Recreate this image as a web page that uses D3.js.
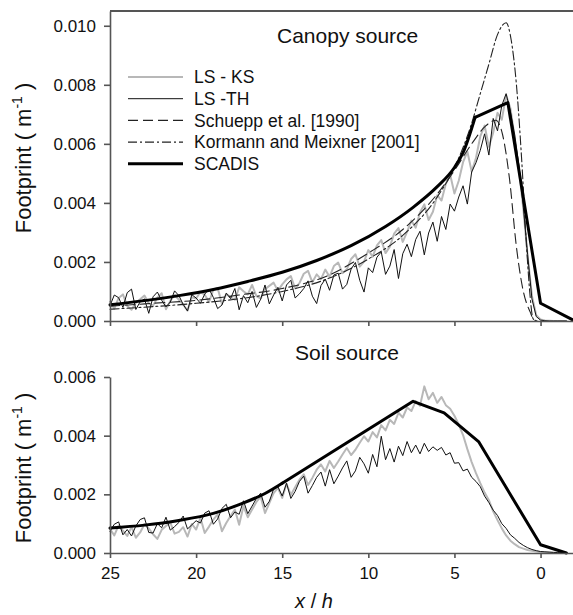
<!DOCTYPE html>
<html>
<head>
<meta charset="utf-8">
<script src="https://cdn.jsdelivr.net/npm/d3@7"></script>
<style>
  body { margin: 0; background: #fff; }
  text { font-family: "Liberation Sans", Arial, sans-serif; fill: #111; }
</style>
</head>
<body>
<svg id="chart" width="573" height="615"></svg>
<script>
// LS runs are sampled every 0.25 x/h from 25 down to -1.5; all footprints in 1e-4 m^-1
const lsStart = 25;
const lsStep = 0.25;

const canopyKS = [
  6.5, 4.2, 7.8, 9.0, 5.1, 3.8, 6.2, 7.4, 8.6, 6.0, 5.2, 7.9, 9.4, 4.0, 6.8, 8.8, 7.2, 5.5, 3.5, 8.1, 7.6,
  9.8, 8.9, 6.4, 10.6, 11.2, 5.8, 9.2, 8.0, 7.2, 11.4, 10.1, 9.0, 12.2, 8.4, 7.6, 10.8, 11.9, 13.0, 10.2, 12.4,
  14.1, 15.2, 11.0, 12.8, 16.0, 17.0, 13.1, 15.8, 14.2, 17.4,
  15.0, 18.6, 19.8, 16.2, 17.5, 21.0, 22.6, 18.4, 20.1, 24.0,
  21.8, 25.6, 27.4, 23.0, 25.2, 29.6, 31.5, 26.8,
  30.2, 34.0, 31.6, 36.8, 39.5, 34.2, 37.0, 42.6,
  40.8, 46.5, 49.6, 43.2,
  47.5, 53.8, 57.4, 50.6,
  55.2, 62.5, 66.2, 59.0,
  63.8, 70.5, 68.2, 76.5,
  72.0, 62.0, 51.0, 38.0, 22.0, 8.5, 2.0, 0.5,
  0.2, 0.1, 0, 0, 0, 0
];

const canopyTH = [
  5.2, 8.8, 7.9, 4.6, 9.6, 10.8, 3.9, 6.5, 7.5, 2.6, 8.2, 9.8, 7.0, 4.8, 6.4, 10.2, 8.6, 5.6, 3.4, 8.9, 7.8,
  6.0, 9.1, 10.8, 8.0, 4.2, 5.4, 9.4, 7.6, 11.0, 3.8, 8.6, 6.2, 10.0, 4.6, 7.4, 12.2, 5.8, 8.8, 11.4, 6.8,
  12.2, 13.8, 7.8, 9.2, 11.0, 13.6, 8.4, 5.9, 12.0, 14.2,
  10.4, 15.6, 16.2, 10.8, 12.4, 17.6, 19.8, 13.8, 9.8, 18.0,
  16.4, 21.6, 23.4, 15.8, 18.6, 24.2, 14.4, 22.8,
  26.0, 21.8, 27.6, 30.4, 22.4, 29.8, 33.5, 27.0,
  35.4, 31.0, 39.6, 37.2,
  42.0, 45.8, 39.6, 50.5,
  53.6, 57.8, 63.4, 56.2,
  68.6, 64.4, 73.0, 77.0,
  71.0, 63.0, 52.5, 38.5, 22.5, 7.5, 1.5, 0.3,
  0.1, 0, 0, 0, 0, 0
];

const soilKS = [
  8.2, 6.0, 9.4, 7.6, 5.8, 8.9, 5.2, 7.0, 9.8, 8.4, 6.4, 4.8, 7.9, 9.2, 10.4, 6.6, 7.2, 8.8, 5.6, 9.9, 8.0,
  12.0, 6.8, 9.0, 11.4, 13.2, 7.4, 10.2, 12.6, 14.8, 9.6,
  16.0, 12.2, 14.8, 17.4, 19.2, 13.6, 17.0, 20.4, 22.2, 18.8,
  23.6, 19.8, 22.4, 25.0, 26.8, 23.2, 25.6, 28.4, 30.2, 27.8,
  31.4, 29.0, 31.2, 33.6, 35.8, 33.4, 35.2, 37.6, 39.8, 38.0,
  41.2, 39.4, 43.6, 41.8, 45.4, 44.0,
  47.8, 46.2, 49.6, 48.4,
  51.8, 50.2, 56.8,
  52.4, 54.6, 51.2,
  53.2, 50.4, 49.2, 46.8, 43.8, 40.2, 35.4, 31.0, 27.2, 23.8, 20.6, 18.0,
  14.2, 11.2, 8.4, 6.0, 4.2, 3.0, 2.0, 1.5, 1.0, 0.8, 0.5, 0.3,
  0.2, 0.15, 0.1, 0.05, 0, 0
];

const soilTH = [
  7.4, 9.8, 10.6, 6.2, 8.0, 5.8, 9.2, 11.4, 12.0, 7.0, 6.8, 10.0, 8.6, 12.2, 7.8, 9.0, 10.4, 12.6, 8.2, 9.6, 11.0,
  10.2, 13.6, 14.4, 9.8, 11.6, 15.2, 16.6, 12.0, 14.0, 13.2,
  17.8, 13.4, 16.0, 18.6, 20.4, 15.6, 17.6, 21.8, 22.6, 19.4,
  23.8, 18.6, 21.0, 24.4, 26.2, 20.4, 23.0, 25.8, 27.6, 22.8,
  28.4, 23.6, 26.2, 29.0, 31.4, 25.8, 28.0, 32.6, 30.4, 27.2,
  33.6, 29.4, 39.8, 31.8,
  35.6, 31.0, 36.4, 33.2,
  38.0, 34.2, 36.8, 33.8,
  37.4, 34.6, 36.2, 35.0,
  36.0, 33.4, 34.2, 30.6,
  30.8, 28.0, 28.6, 25.8,
  24.4, 22.6, 19.4, 17.2,
  14.6, 12.8, 10.0, 8.4,
  6.2, 5.0, 3.6, 2.6,
  1.8, 1.2, 0.8, 0.5,
  0.4, 0.3, 0.2, 0.15, 0.1, 0
];

// model curves as [x/h, footprint 1e-4 m^-1]
const canopySchuepp = [
  [25, 5], [22.5, 6], [20, 7], [17.5, 8.8], [15, 11], [12.5, 15], [10, 23], [8, 31], [6, 43],
  [5, 51], [4, 60], [3.2, 66], [2.6, 68], [2.2, 63], [1.8, 48], [1.4, 25], [1.0, 10], [0.6, 3],
  [0.4, 0.5], [0.2, 0]
];
const canopyKormann = [
  [25, 4], [20, 6], [17.5, 7.5], [15, 10], [12.5, 14], [10, 21], [8, 29], [6, 42], [5, 52],
  [4, 67], [3.5, 77], [3, 87], [2.5, 97], [2.0, 101], [1.7, 95], [1.4, 80], [1.1, 55],
  [0.8, 24], [0.6, 8], [0.45, 1], [0.3, 0]
];
// SCADIS is smooth up to its first kink, straight segments after it
const canopySCADIS = [
  [25, 5.5], [23, 6.9], [21, 8.6], [19, 10.7], [17, 13.4], [15, 16.5], [13, 20.5], [11, 25.5],
  [9, 32], [7.4, 38.5], [6, 45.5], [5, 52], [4.5, 57], [3.8, 69],
  [1.9, 74], [0, 6], [-1.9, 0.3]
];
const canopyKink = 3.8;
const soilSCADIS = [
  [25, 8.5], [23, 9.5], [21, 11.1], [19, 13.5], [17.5, 16.5], [16, 20.3], [15, 23.8],
  [7.4, 51.7], [5.6, 47.8], [3.6, 38], [0, 2.8], [-1.5, 0]
];
const soilKink = 15;

const xDomain = [25, -2];
const xTicks = [25, 20, 15, 10, 5, 0];
const canopyDomain = [0, 0.0105];
const canopyTicks = [0, 0.002, 0.004, 0.006, 0.008, 0.010];
const soilDomain = [0, 0.006];
const soilTicks = [0, 0.002, 0.004, 0.006];

const legendItems = [
  { label: "LS - KS", key: "ks" },
  { label: "LS -TH", key: "th" },
  { label: "Schuepp et al. [1990]", key: "schuepp" },
  { label: "Kormann and Meixner [2001]", key: "kormann" },
  { label: "SCADIS", key: "scadis" }
];

const styles = {
  ks: { stroke: "#b8b8b8", width: 2, dash: null },
  th: { stroke: "#111", width: 1, dash: null },
  schuepp: { stroke: "#222", width: 1.1, dash: "10,5" },
  kormann: { stroke: "#222", width: 1.1, dash: "9,3,2,3" },
  scadis: { stroke: "#000", width: 3, dash: null }
};

const svg = d3.select("#chart");
const axisColor = "#555";

const x = d3.scaleLinear().domain(xDomain).range([110, 575]);

function lsPoints(values) {
  return values.map((v, i) => [lsStart - i * lsStep, v]);
}

function drawSeries(g, y, pts, key, curve) {
  const s = styles[key];
  const line = d3.line()
    .x(d => x(d[0]))
    .y(d => y(d[1] * 1e-4))
    .curve(curve || d3.curveLinear);
  g.append("path")
    .attr("fill", "none")
    .attr("stroke", s.stroke)
    .attr("stroke-width", s.width)
    .attr("stroke-dasharray", s.dash)
    .attr("stroke-linejoin", "round")
    .attr("stroke-linecap", "round")
    .attr("d", line(pts));
}

function styleAxis(sel) {
  sel.selectAll("path, line").attr("stroke", axisColor).attr("stroke-width", 1.6);
  sel.selectAll("text").attr("font-size", 17).attr("fill", "#111")
    .attr("font-family", '"Liberation Sans", Arial, sans-serif');
}

function drawPanel(opts) {
  const y = d3.scaleLinear().domain(opts.domain).range(opts.range);
  const g = svg.append("g");

  drawSeries(g, y, lsPoints(opts.ks), "ks");
  drawSeries(g, y, lsPoints(opts.th), "th");
  if (opts.schuepp) drawSeries(g, y, opts.schuepp, "schuepp", d3.curveMonotoneX);
  if (opts.kormann) drawSeries(g, y, opts.kormann, "kormann", d3.curveMonotoneX);
  drawSeries(g, y, opts.scadis.filter(d => d[0] >= opts.kink), "scadis", d3.curveMonotoneX);
  drawSeries(g, y, opts.scadis.filter(d => d[0] <= opts.kink), "scadis");

  const yAxis = g.append("g")
    .attr("transform", `translate(${x.range()[0]},0)`)
    .call(d3.axisLeft(y).tickValues(opts.ticks).tickSize(6).tickSizeOuter(0)
      .tickPadding(8).tickFormat(d3.format(".3f")));
  styleAxis(yAxis);

  const xAxis = g.append("g")
    .attr("transform", `translate(0,${opts.range[0]})`)
    .call(d3.axisBottom(x).tickValues(xTicks).tickSize(5).tickSizeOuter(0)
      .tickPadding(9).tickFormat(opts.xLabels ? d3.format("d") : ""));
  styleAxis(xAxis);

  if (opts.frameTop) {
    g.append("line")
      .attr("x1", x.range()[0]).attr("x2", 573)
      .attr("y1", opts.range[1]).attr("y2", opts.range[1])
      .attr("stroke", axisColor).attr("stroke-width", 2);
  }

  g.append("text")
    .attr("x", opts.titlePos[0]).attr("y", opts.titlePos[1])
    .attr("font-size", 21)
    .text(opts.title);

  const yl = g.append("text")
    .attr("transform", `translate(31,${opts.labelY}) rotate(-90)`)
    .attr("text-anchor", "middle")
    .attr("font-size", 22);
  yl.append("tspan").text("Footprint ( m");
  yl.append("tspan").attr("font-size", 14).attr("dy", -9).text("-1");
  yl.append("tspan").attr("dy", 9).text(" )");

  return g;
}

drawPanel({
  domain: canopyDomain, range: [321, 11], ticks: canopyTicks,
  ks: canopyKS, th: canopyTH, schuepp: canopySchuepp, kormann: canopyKormann,
  scadis: canopySCADIS, kink: canopyKink,
  xLabels: false, frameTop: true, title: "Canopy source", titlePos: [277, 43], labelY: 158
});

drawPanel({
  domain: soilDomain, range: [553, 377], ticks: soilTicks,
  ks: soilKS, th: soilTH, scadis: soilSCADIS, kink: soilKink,
  xLabels: true, frameTop: false, title: "Soil source", titlePos: [295, 360], labelY: 468
});

// legend
const legend = svg.append("g");
legendItems.forEach((item, i) => {
  const s = styles[item.key];
  const ly = 77 + i * 21.7;
  legend.append("line")
    .attr("x1", 128).attr("x2", 183).attr("y1", ly).attr("y2", ly)
    .attr("stroke", s.stroke).attr("stroke-width", s.width)
    .attr("stroke-dasharray", s.dash);
  legend.append("text")
    .attr("x", 194).attr("y", ly).attr("dy", "0.36em")
    .attr("font-size", 17.5)
    .text(item.label);
});

// x axis title
const xt = svg.append("text")
  .attr("x", 314).attr("y", 608)
  .attr("text-anchor", "middle")
  .attr("font-size", 20);
xt.append("tspan").attr("font-style", "italic").text("x");
xt.append("tspan").text(" / ");
xt.append("tspan").attr("font-style", "italic").text("h");
</script>
</body>
</html>
